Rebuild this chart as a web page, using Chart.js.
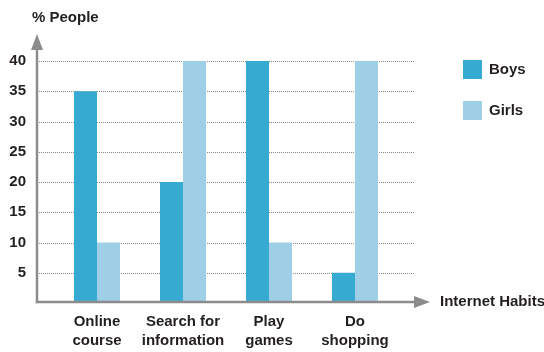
<!DOCTYPE html>
<html>
<head>
<meta charset="utf-8">
<script src="https://cdn.jsdelivr.net/npm/chart.js@4.4.1/dist/chart.umd.min.js"></script>
<style>
  html, body { margin: 0; padding: 0; background: #ffffff; }
  #wrap { width: 544px; height: 352px; position: relative; }
</style>
</head>
<body>
<div id="wrap"><canvas id="c" width="544" height="352"></canvas></div>
<script>
// Survey data: share of boys and girls for each internet habit
const categories = [['Online', 'course'], ['Search for', 'information'], ['Play', 'games'], ['Do', 'shopping']];
const seriesNames = ['Boys', 'Girls'];
const boysValues = [35, 20, 40, 5];
const girlsValues = [10, 40, 10, 40];
const yTickValues = [5, 10, 15, 20, 25, 30, 35, 40];
const yAxisTitle = '% People';
const xAxisTitle = 'Internet Habits';

const BOYS_COLOR = '#37aad2';
const GIRLS_COLOR = '#9fcfe6';
const TEXT_COLOR = '#231f20';
const AXIS_COLOR = '#8c8c8c';
const FONT = "bold 15px 'Liberation Sans', Arial, sans-serif";

// Axes with arrows, dotted guide lines, axis titles and the legend
const decorations = {
  id: 'decorations',
  beforeDatasetsDraw(chart) {
    const { ctx, chartArea, scales: { y } } = chart;
    const x0 = chartArea.left - 17, x1 = chartArea.right + 17;
    ctx.save();
    ctx.strokeStyle = '#8a8a8a';
    ctx.lineWidth = 1;
    ctx.setLineDash([1, 1]);
    y.ticks.forEach(t => {
      const py = Math.round(y.getPixelForValue(t.value)) + 0.5;
      ctx.beginPath();
      ctx.moveTo(x0, py);
      ctx.lineTo(x1, py);
      ctx.stroke();
    });
    ctx.restore();
  },
  afterDatasetsDraw(chart) {
    const { ctx, chartArea, scales: { y } } = chart;
    const ax = chartArea.left - 17;
    const ay = y.getPixelForValue(0) - 1;
    const xEnd = chartArea.right + 17;
    ctx.save();
    ctx.strokeStyle = AXIS_COLOR;
    ctx.fillStyle = AXIS_COLOR;
    ctx.lineWidth = 2.5;
    // vertical axis
    ctx.beginPath();
    ctx.moveTo(ax, ay + 1.2);
    ctx.lineTo(ax, 48);
    ctx.stroke();
    ctx.beginPath();
    ctx.moveTo(ax, 34);
    ctx.lineTo(ax - 6, 50);
    ctx.lineTo(ax + 6, 50);
    ctx.closePath();
    ctx.fill();
    // horizontal axis
    ctx.beginPath();
    ctx.moveTo(ax - 1.2, ay);
    ctx.lineTo(xEnd, ay);
    ctx.stroke();
    ctx.beginPath();
    ctx.moveTo(xEnd + 15, ay);
    ctx.lineTo(xEnd - 1, ay - 6);
    ctx.lineTo(xEnd - 1, ay + 6);
    ctx.closePath();
    ctx.fill();

    // axis titles
    ctx.fillStyle = TEXT_COLOR;
    ctx.font = FONT;
    ctx.textBaseline = 'middle';
    ctx.textAlign = 'left';
    ctx.fillText(yAxisTitle, 32, 18);
    ctx.fillText(xAxisTitle, xEnd + 25, ay);

    // legend
    const lx = chartArea.right + 65;
    chart.data.datasets.forEach((ds, i) => {
      const top = 60 + i * 41;
      ctx.fillStyle = ds.backgroundColor;
      ctx.fillRect(lx, top, 19, 19);
      ctx.fillStyle = TEXT_COLOR;
      ctx.fillText(ds.label, lx + 26, top + 10);
    });
    ctx.restore();
  }
};

new Chart(document.getElementById('c'), {
  type: 'bar',
  data: {
    labels: categories,
    datasets: [
      { label: seriesNames[0], data: boysValues, backgroundColor: BOYS_COLOR },
      { label: seriesNames[1], data: girlsValues, backgroundColor: GIRLS_COLOR }
    ]
  },
  options: {
    responsive: false,
    animation: false,
    devicePixelRatio: 1,
    layout: { padding: { top: 61, right: 146, bottom: 0, left: 0 } },
    datasets: { bar: { barPercentage: 1, categoryPercentage: 0.535 } },
    plugins: { legend: { display: false }, tooltip: { enabled: false } },
    scales: {
      x: {
        grid: { display: false, drawTicks: false },
        border: { display: false },
        ticks: { color: TEXT_COLOR, padding: 9, maxRotation: 0, autoSkip: false,
                 font: { family: "'Liberation Sans', Arial, sans-serif", size: 15, weight: 'bold', lineHeight: 1.3 } },
        afterFit(scale) { scale.height = 49; }
      },
      y: {
        min: 0, max: 40,
        afterBuildTicks(scale) { scale.ticks = yTickValues.map(v => ({ value: v })); },
        grid: { display: false, drawTicks: false },
        border: { display: false },
        ticks: { color: TEXT_COLOR, padding: 28,
                 font: { family: "'Liberation Sans', Arial, sans-serif", size: 15, weight: 'bold' } },
        afterFit(scale) { scale.width = 54; }
      }
    }
  },
  plugins: [decorations]
});
</script>
</body>
</html>
